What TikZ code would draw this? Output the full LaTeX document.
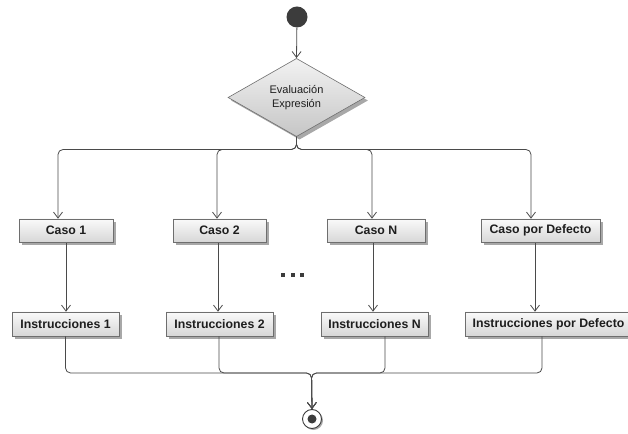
\documentclass[tikz,border=0pt]{standalone}
\usepackage{fontspec}
\setmainfont{Liberation Sans}
\usetikzlibrary{shapes.geometric,arrows.meta,shadows}

\definecolor{edge}{HTML}{4A4A4A}
\definecolor{frame}{HTML}{6E6E6E}
\definecolor{ink}{HTML}{1E1E1E}
\definecolor{dark}{HTML}{3C3C3C}
\definecolor{shade}{HTML}{A8A8A8}

\tikzset{
  conn/.style={draw=edge, line width=0.8pt},
  flow/.style={conn, -{Straight Barb[length=6pt,width=9pt,line width=0.8pt]}},
  boxshadow/.style={drop shadow={shadow xshift=3pt, shadow yshift=-3pt, fill=shade, opacity=1}},
  casebox/.style={rectangle, draw=frame, line width=0.6pt, inner sep=0pt,
    top color=white!96!gray, bottom color=gray!32, boxshadow,
    minimum height=23.5pt, text=ink,
    font=\fontsize{12.3}{14}\selectfont\bfseries},
  decision/.style={diamond, draw=frame, line width=0.6pt, inner sep=0pt,
    minimum width=137pt, minimum height=69pt,
    top color=gray!10, bottom color=gray!45, boxshadow,
    align=center, text=ink, font=\fontsize{11}{14}\selectfont},
  startdot/.style={circle, fill=dark, minimum size=21pt, inner sep=0pt},
  enddot/.style={circle, draw=dark, line width=0.9pt, fill=white, minimum size=19pt, inner sep=0pt,
    drop shadow={shadow xshift=1.5pt, shadow yshift=-1.5pt, fill=shade, opacity=1}},
  enddotcore/.style={circle, fill=dark, minimum size=9pt, inner sep=0pt},
  ellipsisdot/.style={rectangle, fill=dark, minimum size=4pt, inner sep=0pt},
}

\begin{document}
\begin{tikzpicture}[x=1pt,y=1pt]
\useasboundingbox (0,0) rectangle (628,433);

% start and decision
\node[startdot] (start) at (297,416) {};
\node[decision] (dec) at (296.5,335.5) {Evaluación\\Expresión};

% case boxes
\node[casebox, minimum width=94pt]  (c1) at (66,202.25)    {Caso 1};
\node[casebox, minimum width=93pt]  (c2) at (219.5,202.25) {Caso 2};
\node[casebox, minimum width=98pt]  (c3) at (376,202.25)   {Caso N};
\node[casebox, minimum width=119pt] (c4) at (540.5,202.25) {Caso por Defecto};

% instruction boxes
\node[casebox, minimum width=107pt, minimum height=24pt] (i1) at (65.5,109)  {Instrucciones 1};
\node[casebox, minimum width=107pt, minimum height=24pt] (i2) at (219.5,109) {Instrucciones 2};
\node[casebox, minimum width=107pt, minimum height=24pt] (i3) at (374.5,109) {Instrucciones N};
\node[casebox, minimum width=167pt, minimum height=24pt] (i4) at (548.5,109) {Instrucciones por Defecto};

% ellipsis between the columns
\node[ellipsisdot] (e1) at (283,158) {};
\node[ellipsisdot] (e2) at (292.5,158) {};
\node[ellipsisdot] (e3) at (302,158) {};

% final node
\node[enddot] (end) at (312,14) {};
\node[enddotcore] (endcore) at (end.center) {};

% split and merge points
\coordinate (split) at (296.5,283.5);
\coordinate (k1) at (58,283.5);
\coordinate (k2) at (217,283.5);
\coordinate (k3) at (372,283.5);
\coordinate (k4) at (531,283.5);
\coordinate (v1) at (66,0);
\coordinate (v2) at (218,0);
\coordinate (v3) at (373,0);
\coordinate (v4) at (535,0);
\coordinate (w1) at (65.5,0);
\coordinate (w2) at (219,0);
\coordinate (w3) at (385,0);
\coordinate (w4) at (542,0);
\coordinate (merge) at (311.5,60);

% connectors
\draw[flow] (start) -- (dec.north);

\begin{scope}[rounded corners=5pt]
  \draw[flow] (dec.south) -- (split) -- (k1) -- (c1.north -| k1);
  \draw[flow] (dec.south) -- (split) -- (k2) -- (c2.north -| k2);
  \draw[flow] (dec.south) -- (split) -- (k3) -- (c3.north -| k3);
  \draw[flow] (dec.south) -- (split) -- (k4) -- (c4.north -| k4);
\end{scope}

\draw[flow] (c1.south -| v1) -- (i1.north -| v1);
\draw[flow] (c2.south -| v2) -- (i2.north -| v2);
\draw[flow] (c3.south -| v3) -- (i3.north -| v3);
\draw[flow] (c4.south -| v4) -- (i4.north -| v4);

\begin{scope}[rounded corners=5pt]
  \draw[flow] (i1.south -| w1) -- (w1 |- merge) -- (merge) -- (end.north);
  \draw[flow] (i2.south -| w2) -- (w2 |- merge) -- (merge) -- (end.north);
  \draw[flow] (i3.south -| w3) -- (w3 |- merge) -- (merge) -- (end.north);
  \draw[flow] (i4.south -| w4) -- (w4 |- merge) -- (merge) -- (end.north);
\end{scope}
\end{tikzpicture}
\end{document}
